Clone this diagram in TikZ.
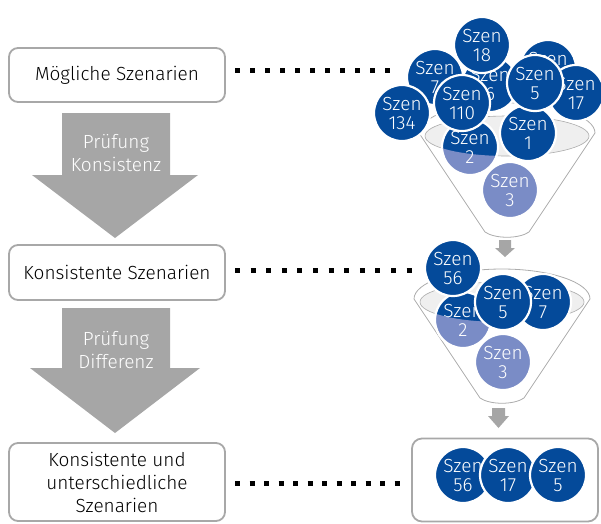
\documentclass[tikz,border=0pt]{standalone}
\usepackage{fontspec}
\setmainfont{Fira Sans Light}
\definecolor{dblue}{RGB}{4,74,154}
\definecolor{lblue}{RGB}{122,140,198}
\definecolor{agray}{RGB}{166,166,166}
\definecolor{bgray}{RGB}{168,168,168}
\definecolor{fgray}{RGB}{172,172,172}
\definecolor{rim}{RGB}{239,239,239}
\newcommand\ball[4]{\node[ball, fill=#4] (#1) at (#2) {Szen\\#3};}
\newcommand\funnelback{%
  \path[draw=fgray, fill=white, line width=0.8]
    (-88,0) .. controls (-88,-16.5) and (-48.6,-30) .. (0,-30)
    .. controls (48.6,-30) and (88,-16.5) .. (88,0)
    -- (22,99) .. controls (12,106) and (-12,106) .. (-22,99) -- cycle;
  \path[draw=fgray, fill=rim, line width=0.6] (0,3) ellipse [x radius=82, y radius=20];}
\newcommand\frontclip{%
  \clip (-88,0) -- (-82,3) .. controls (-82,14.05) and (-45.3,23) .. (0,23)
    .. controls (45.3,23) and (82,14.05) .. (82,3) -- (88,0)
    -- (22,99) .. controls (12,106) and (-12,106) .. (-22,99) -- cycle;}
\begin{document}
\begin{tikzpicture}[x=1pt,y=-1pt,
  lbox/.style={draw=bgray, line width=1.8, rounded corners=9, fill=white,
    align=center, inner sep=0, font=\fontsize{19}{23}\selectfont},
  rbox/.style={draw=bgray, line width=1.8, rounded corners=10, inner sep=0},
  atext/.style={text=white, align=center, font=\fontsize{19}{23}\selectfont},
  ball/.style={circle, minimum size=56, inner sep=0, draw=white, line width=2.2,
    text=white, align=center, font=\fontsize{19}{19}\selectfont},
  dots/.style={line width=5, dash pattern=on 5 off 10}]
\useasboundingbox (0,0) rectangle (601,523);

% left boxes
\node[lbox, minimum width=216, minimum height=54] (b1) at (117,75) {Mögliche Szenarien};
\node[lbox, minimum width=216, minimum height=55] (b2) at (117,272.5) {Konsistente Szenarien};
\node[lbox, minimum width=216, minimum height=78] (b3) at (117,482) {Konsistente und\\unterschiedliche\\Szenarien};

% big arrows
\fill[agray] (62,113) -- (170,113) -- (170,175) -- (198,175) -- (115,238) -- (32,175) -- (62,175) -- cycle;
\node[atext] (p1) at (116,153) {Prüfung\\Konsistenz};
\fill[agray] (62,308) -- (170,308) -- (170,368) -- (200,368) -- (115,433) -- (30,368) -- (62,368) -- cycle;
\node[atext] (p2) at (116,350) {Prüfung\\Differenz};

% dotted connectors
\coordinate (d1s) at (235,70); \coordinate (d1e) at (390,70);
\coordinate (d2s) at (235,270); \coordinate (d2e) at (413,270);
\coordinate (d3s) at (235,483); \coordinate (d3e) at (400,483);
\draw[dots] (d1s) -- (d1e);
\draw[dots, dash pattern=on 5 off 10.6] (d2s) -- (d2e);
\draw[dots, dash pattern=on 5 off 9.5] (d3s) -- (d3e);

% funnel 1
\begin{scope}[shift={(507,133)}]
  \funnelback
\end{scope}
\ball{f1c10}{548,68}{10}{dblue}
\ball{f1c6}{490,84}{6}{dblue}
\ball{f1c7}{435,77}{7}{dblue}
\ball{f1c18}{482,45}{18}{dblue}
\ball{f1c134}{402,113}{134}{dblue}
\ball{f1c17}{576,93}{17}{dblue}
\ball{f1c2}{470,147}{2}{dblue}
\ball{f1c1}{528,133}{1}{dblue}
\ball{f1c110}{462,103}{110}{dblue}
\ball{f1c5}{535,83}{5}{dblue}
\begin{scope}[shift={(507,133)}]
  \frontclip
  \ball{f1c2f}{-37,14}{2}{lblue}
  \ball{f1c3}{3,57}{3}{lblue}
\end{scope}

% small arrow 1
\fill[agray] (499,240) -- (511,240) -- (511,248) -- (515,248) -- (505,257) -- (495,248) -- (499,248) -- cycle;

% funnel 2
\begin{scope}[shift={(502,299)}]
  \funnelback
\end{scope}
\ball{f2c7}{543,302}{7}{dblue}
\ball{f2c2}{463,320}{2}{dblue}
\ball{f2c56}{453,268}{56}{dblue}
\begin{scope}[shift={(502,299)}]
  \frontclip
  \ball{f2c2f}{-39,21}{2}{lblue}
  \ball{f2c3}{1,63}{3}{lblue}
\end{scope}
\ball{f2c5}{503,302}{5}{dblue}

% small arrow 2
\fill[agray] (492,408) -- (505,408) -- (505,416) -- (509,416) -- (498.5,428) -- (488,416) -- (492,416) -- cycle;

% result box
\node[rbox, minimum width=186, minimum height=83] (rb) at (505,480) {};
\ball{r56}{463,475}{56}{dblue}
\ball{r17}{508,475}{17}{dblue}
\ball{r5}{558,475}{5}{dblue}
\end{tikzpicture}
\end{document}
